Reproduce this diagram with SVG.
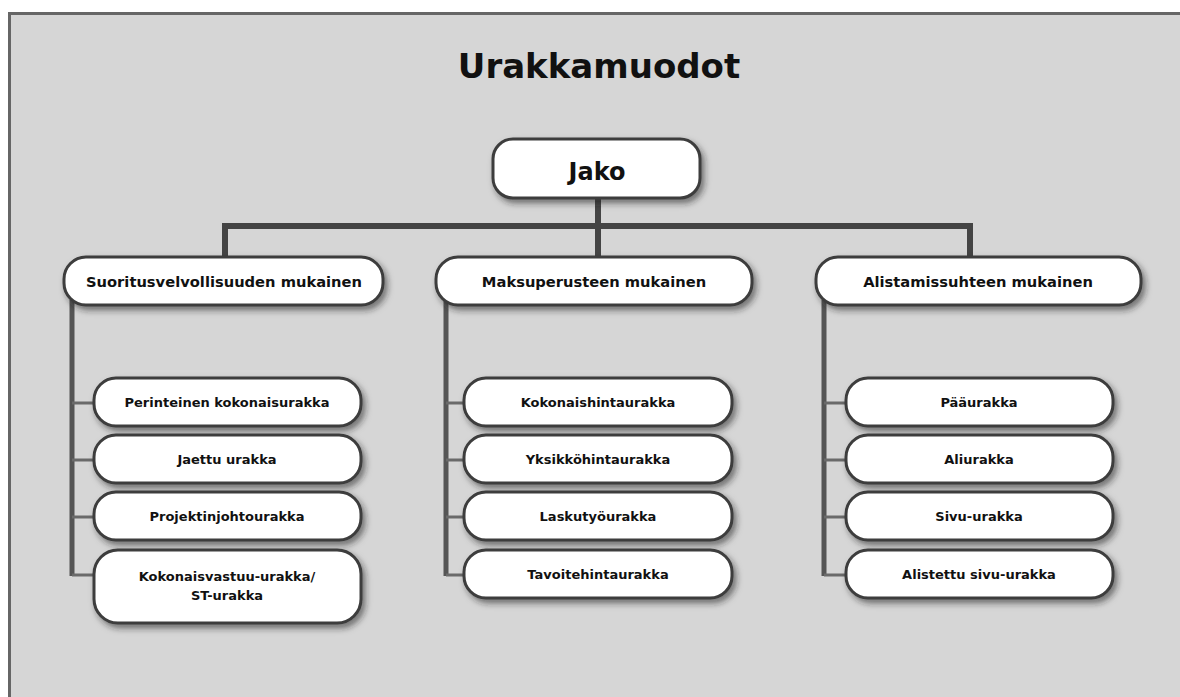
<svg xmlns="http://www.w3.org/2000/svg" width="1180" height="697" viewBox="0 0 1180 697">
<defs>
<filter id="sh" x="-10%" y="-20%" width="125%" height="160%">
<feDropShadow dx="3" dy="4" stdDeviation="3" flood-color="#222" flood-opacity="0.55"/>
</filter>
<style>
.box{fill:#fff;stroke:#3c3c3c;stroke-width:3;filter:url(#sh)}
.t{font-family:"DejaVu Sans",Verdana,sans-serif;font-weight:bold;fill:#111;text-anchor:middle}
.t1{font-size:14.7px}
.t2{font-size:13px}
.main{stroke:#444;stroke-width:6;fill:none}
.trunk{stroke:#555;stroke-width:5;fill:none}
.stub{stroke:#6a6a6a;stroke-width:3;fill:none}
</style>
</defs>
<rect x="0" y="0" width="1180" height="697" fill="#fff"/>
<rect x="9.5" y="13.5" width="1200" height="720" fill="#d6d6d6" stroke="#666" stroke-width="3"/>
<text class="t" x="599" y="78" font-size="34">Urakkamuodot</text>

<g id="connectors">
<path class="main" d="M598,198 V258 M225,258 V226 H970 V258"/>
<path class="trunk" d="M72,300 V576 M446,300 V576 M824,300 V576"/>
<path class="stub" d="M72,403 H95 M72,460 H95 M72,517 H95 M72,575 H95"/>
<path class="stub" d="M446,403 H465 M446,460 H465 M446,517 H465 M446,575 H465"/>
<path class="stub" d="M824,403 H847 M824,460 H847 M824,517 H847 M824,575 H847"/>
</g>

<g id="jako"><rect class="box" x="493" y="139" width="207" height="59" rx="20"/><text class="t" x="597" y="180" font-size="24">Jako</text></g>

<g id="suoritus"><rect class="box" x="64" y="257" width="319" height="48" rx="22"/><text class="t t1" x="224" y="287">Suoritusvelvollisuuden mukainen</text></g>
<g id="maksu"><rect class="box" x="436" y="257" width="316" height="48" rx="22"/><text class="t t1" x="594" y="287">Maksuperusteen mukainen</text></g>
<g id="alistamis"><rect class="box" x="816" y="257" width="325" height="48" rx="22"/><text class="t t1" x="978" y="287">Alistamissuhteen mukainen</text></g>

<g id="perinteinen"><rect class="box" x="94" y="378" width="267" height="48" rx="22"/><text class="t t2" x="227" y="407">Perinteinen kokonaisurakka</text></g>
<g id="jaettu"><rect class="box" x="94" y="435" width="267" height="48" rx="22"/><text class="t t2" x="227" y="464">Jaettu urakka</text></g>
<g id="projektinjohto"><rect class="box" x="94" y="492" width="267" height="48" rx="22"/><text class="t t2" x="227" y="521">Projektinjohtourakka</text></g>
<g id="kokonaisvastuu"><rect class="box" x="94" y="550" width="267" height="73" rx="24"/><text class="t t2" x="227" y="581">Kokonaisvastuu-urakka/</text><text class="t t2" x="227" y="600">ST-urakka</text></g>

<g id="kokonaishinta"><rect class="box" x="464" y="378" width="268" height="48" rx="22"/><text class="t t2" x="598" y="407">Kokonaishintaurakka</text></g>
<g id="yksikkohinta"><rect class="box" x="464" y="435" width="268" height="48" rx="22"/><text class="t t2" x="598" y="464">Yksikköhintaurakka</text></g>
<g id="laskutyo"><rect class="box" x="464" y="492" width="268" height="48" rx="22"/><text class="t t2" x="598" y="521">Laskutyöurakka</text></g>
<g id="tavoitehinta"><rect class="box" x="464" y="550" width="268" height="48" rx="22"/><text class="t t2" x="598" y="579">Tavoitehintaurakka</text></g>

<g id="paaurakka"><rect class="box" x="846" y="378" width="267" height="48" rx="22"/><text class="t t2" x="979" y="407">Pääurakka</text></g>
<g id="aliurakka"><rect class="box" x="846" y="435" width="267" height="48" rx="22"/><text class="t t2" x="979" y="464">Aliurakka</text></g>
<g id="sivuurakka"><rect class="box" x="846" y="492" width="267" height="48" rx="22"/><text class="t t2" x="979" y="521">Sivu-urakka</text></g>
<g id="alistettu"><rect class="box" x="846" y="550" width="267" height="48" rx="22"/><text class="t t2" x="979" y="579">Alistettu sivu-urakka</text></g>
</svg>
